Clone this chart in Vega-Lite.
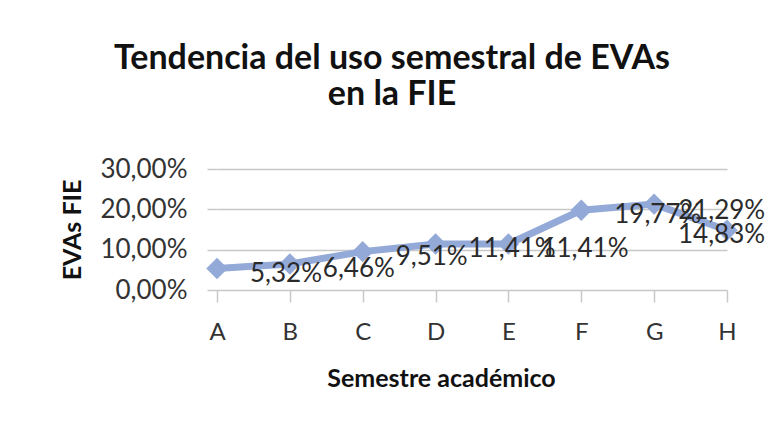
{
  "$schema": "https://vega.github.io/schema/vega-lite/v6.json",
  "autosize": "none",
  "padding": {"left": 217, "top": 169, "right": 38, "bottom": 143},
  "width": 510,
  "height": 121,
  "background": "white",
  "config": {
    "locale": {"number": {"decimal": ",", "thousands": ".", "grouping": [3], "currency": ["", " €"]}},
    "font": "Lato",
    "view": {"stroke": null}
  },
  "title": {
    "text": ["Tendencia del uso semestral de EVAs", "en la FIE"],
    "font": "Lato",
    "fontSize": 34,
    "fontWeight": "bold",
    "color": "#111111",
    "anchor": "middle",
    "frame": "group",
    "dx": -80,
    "lineHeight": 36,
    "offset": 44
  },
  "data": {
    "values": [
      {"semestre": "A", "uso": 0.0532},
      {"semestre": "B", "uso": 0.0646},
      {"semestre": "C", "uso": 0.0951},
      {"semestre": "D", "uso": 0.1141},
      {"semestre": "E", "uso": 0.1141},
      {"semestre": "F", "uso": 0.1977},
      {"semestre": "G", "uso": 0.2129},
      {"semestre": "H", "uso": 0.1483}
    ]
  },
  "encoding": {
    "x": {
      "field": "semestre",
      "type": "nominal",
      "scale": {"type": "point", "padding": 0},
      "axis": {
        "title": "Semestre académico",
        "titleFont": "Lato",
        "titleFontSize": 25,
        "titleFontWeight": "bold",
        "titleColor": "#111111",
        "titleX": 224,
        "titleY": 88,
        "titleBaseline": "middle",
        "labelAngle": 0,
        "labelFont": "Lato",
        "labelFontSize": 24,
        "labelColor": "#333333",
        "labelPadding": 18,
        "domain": false,
        "grid": false,
        "ticks": true,
        "tickSize": 12,
        "tickColor": "#c8c8c8",
        "tickWidth": 1.5
      }
    },
    "y": {
      "field": "uso",
      "type": "quantitative",
      "scale": {"domain": [0, 0.3], "nice": false},
      "axis": {
        "title": "EVAs FIE",
        "titleFont": "Lato",
        "titleFontSize": 25,
        "titleFontWeight": "bold",
        "titleColor": "#111111",
        "titlePadding": 14,
        "values": [0, 0.1, 0.2, 0.3],
        "format": ".2%",
        "labelFont": "Lato",
        "labelFontSize": 26,
        "labelColor": "#333333",
        "labelPadding": 20,
        "domain": false,
        "grid": true,
        "gridColor": "#c8c8c8",
        "gridWidth": 1.5,
        "ticks": true,
        "tickSize": 10,
        "tickColor": "#c8c8c8",
        "tickWidth": 1.5
      }
    }
  },
  "layer": [
    {
      "mark": {"type": "line", "color": "#93a9d8", "strokeWidth": 7}
    },
    {
      "mark": {"type": "point", "shape": "diamond", "filled": true, "color": "#93a9d8", "opacity": 1, "size": 460}
    },
    {
      "transform": [{"filter": "indexof(['G','H'], datum.semestre) < 0"}],
      "mark": {"type": "text", "align": "left", "baseline": "middle", "dx": 33, "dy": 5, "font": "Lato", "fontSize": 26, "color": "#2a2a2a"},
      "encoding": {"text": {"field": "uso", "type": "quantitative", "format": ".2%"}}
    },
    {
      "transform": [{"filter": "datum.semestre == 'G'"}],
      "mark": {"type": "text", "align": "left", "baseline": "middle", "dx": 24, "dy": 7, "font": "Lato", "fontSize": 26, "color": "#2a2a2a"},
      "encoding": {"text": {"field": "uso", "type": "quantitative", "format": ".2%"}}
    },
    {
      "transform": [{"filter": "datum.semestre == 'H'"}],
      "mark": {"type": "text", "align": "left", "baseline": "middle", "dx": -49, "dy": 5, "font": "Lato", "fontSize": 26, "color": "#2a2a2a"},
      "encoding": {"text": {"field": "uso", "type": "quantitative", "format": ".2%"}}
    }
  ]
}
